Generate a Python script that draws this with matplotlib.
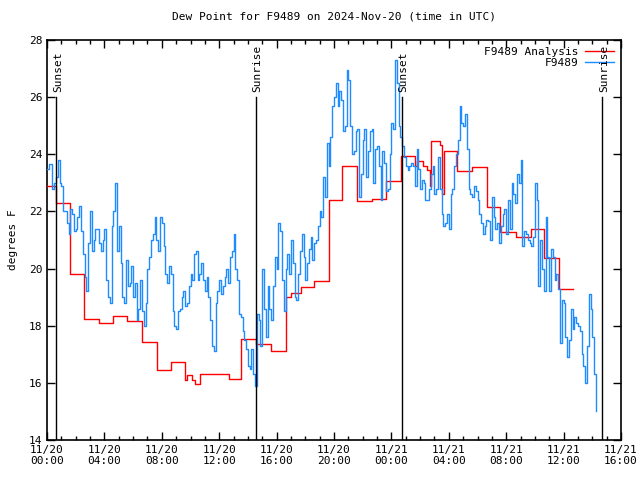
import numpy as np
import matplotlib
matplotlib.use("Agg")
import matplotlib.pyplot as plt
from matplotlib.ticker import MultipleLocator, FuncFormatter

# Analysis (hourly steps): hours since 2024-11-20 00:00 UTC, dew point in F
analysis_hours = [0.0, 0.63, 1.60, 2.58, 3.62, 4.60, 5.57, 6.62, 7.67, 8.64,
                  9.62, 9.76, 10.10, 10.31, 10.66, 12.68, 13.52, 14.56, 15.61,
                  16.66, 17.00, 17.70, 18.61, 19.65, 20.56, 21.60, 22.65,
                  23.62, 24.67, 25.64, 25.78, 26.20, 26.48, 26.69, 26.76,
                  27.39, 27.53, 27.67, 28.57, 29.62, 30.66, 31.57, 32.68,
                  33.73, 34.63, 35.68, 36.66]
analysis_dewpt = [22.89, 22.3, 19.8, 18.23, 18.1, 18.35, 18.17, 17.43, 16.45,
                  16.73, 16.1, 16.28, 16.1, 15.96, 16.3, 16.13, 17.53, 17.36,
                  17.1, 19.0, 19.15, 19.35, 19.57, 22.4, 23.6, 22.37, 22.43,
                  23.06, 23.94, 23.6, 23.77, 23.6, 23.45, 22.9, 24.47, 24.33,
                  22.6, 24.1, 23.4, 23.55, 22.15, 21.28, 21.1, 21.4, 20.37,
                  19.3, 19.3]

# Station observations, one every 7.5 minutes from 00:00 UTC
obs_step_min = 7.5
station_dewpt = [
    23.5, 23.66, 23.66, 22.8, 23.0, 23.2, 23.8, 23.0, 22.9, 22.0,
    22.0, 21.6, 21.2, 22.1, 21.9, 21.3, 21.4, 21.8, 22.2, 21.3,
    20.5, 19.7, 19.2, 20.9, 22.0, 20.6, 21.0, 21.4, 21.4, 20.9,
    20.6, 21.0, 21.4, 19.6, 19.0, 18.8, 21.5, 22.0, 23.0, 20.6,
    21.5, 20.2, 19.0, 18.8, 20.3, 19.4, 19.5, 20.1, 19.0, 19.5,
    18.2, 18.6, 19.6, 18.5, 18.0, 18.8, 20.0, 20.4, 21.0, 21.2,
    21.8, 21.0, 20.6, 21.8, 21.6, 20.8, 19.8, 19.5, 20.1, 19.8,
    18.5, 18.0, 17.9, 18.5, 18.6, 19.0, 19.2, 18.7, 18.8, 19.4,
    19.8, 19.6, 20.5, 20.6, 19.6, 19.8, 20.2, 19.6, 19.2, 19.7,
    19.0, 18.2, 17.3, 17.1, 18.8, 19.2, 19.6, 19.1, 19.4, 19.7,
    20.0, 19.5, 20.4, 20.6, 21.2, 20.0, 19.6, 18.4, 18.3, 17.8,
    17.5, 17.2, 16.6, 16.5, 17.2, 16.3, 15.9, 18.4, 18.2, 17.3,
    20.0, 18.6, 17.6, 19.4, 18.6, 18.2, 19.4, 20.4, 20.0, 21.6,
    21.3, 19.6, 18.5, 20.0, 20.5, 19.8, 21.0, 20.2, 19.0, 18.9,
    19.8, 20.6, 21.2, 20.4, 19.6, 20.2, 20.7, 21.1, 20.3, 20.9,
    21.0, 21.5, 22.0, 21.8, 23.2, 22.5, 24.4, 23.6, 24.6, 25.7,
    26.0, 26.5, 25.7, 26.2, 25.9, 24.8, 25.0, 26.95, 26.6, 25.0,
    24.0, 24.1, 24.8, 24.9, 22.5, 23.3, 24.5, 24.9, 23.2, 24.1,
    24.8, 24.9, 23.0, 24.2, 24.3, 23.6, 22.4, 24.1, 23.7, 22.7,
    22.8, 24.0, 25.1, 24.9, 27.3, 26.5, 25.0, 24.6, 24.3, 23.9,
    23.6, 23.45, 23.6, 23.7, 23.6, 22.9, 24.2, 23.5, 22.8, 23.1,
    23.0, 22.4, 22.4, 22.8, 23.3, 23.6, 22.6, 22.8, 23.9, 22.8,
    21.9, 21.5, 21.6, 21.9, 21.4, 22.6, 22.8, 23.6, 24.0, 24.5,
    25.7, 25.1, 25.0, 25.4, 24.2, 22.8, 22.6, 22.5, 22.9, 22.7,
    22.4, 21.9, 21.6, 21.2, 21.5, 21.7, 21.65, 21.0, 22.5, 21.8,
    21.4, 21.6, 20.9, 21.5, 21.9, 22.1, 21.2, 22.4, 21.4, 23.0,
    22.6, 22.3, 23.3, 23.0, 23.8, 20.8, 21.3, 21.2, 21.0, 20.9,
    20.8, 21.1, 23.0, 22.4, 19.4, 21.0, 20.0, 19.2, 21.8, 20.4,
    19.2, 20.7, 20.4, 19.6, 19.8, 19.3, 17.4, 18.9, 18.8, 17.6,
    16.9, 17.5, 18.6, 17.9, 18.3, 18.1, 18.0, 17.8, 17.0, 16.6,
    16.0, 17.3, 19.1, 18.6, 17.6, 16.3, 15.0]

# Sun events (hours since 2024-11-20 00:00 UTC)
sun_hours = [0.63, 14.56, 24.74, 38.68]
sun_labels = ["Sunset", "Sunrise", "Sunset", "Sunrise"]

plt.rcParams['font.family'] = ['DejaVu Sans Mono']
plt.rcParams['font.size'] = 8

station_hours = np.arange(len(station_dewpt)) * obs_step_min / 60.0

fig = plt.figure(figsize=(6.4, 4.8), dpi=100)
ax = fig.add_axes([47 / 640, 40 / 480, 574 / 640, 400 / 480])

ax.step(analysis_hours, analysis_dewpt, where='post', color='#ff0000',
        lw=1.0, label='F9489 Analysis', zorder=3)
ax.step(station_hours, station_dewpt, where='post', color='#1e8cff',
        lw=1.0, label='F9489', zorder=4)

# sunrise / sunset markers
for h, lab in zip(sun_hours, sun_labels):
    ax.plot([h, h], [14, 26.0], color='black', lw=1.0, zorder=5)
    ax.text(h + 0.12, 26.18, lab, rotation=90, ha='center', va='bottom',
            fontsize=8, zorder=6)

ax.set_xlim(0, 40)
ax.set_ylim(14, 28)
ax.xaxis.set_major_locator(MultipleLocator(4))
ax.xaxis.set_minor_locator(MultipleLocator(1))
ax.yaxis.set_major_locator(MultipleLocator(2))


def fmt_time(h, _):
    day = 20 + int(h // 24)
    return f"11/{day}\n{int(h % 24):02d}:00"


ax.xaxis.set_major_formatter(FuncFormatter(fmt_time))
ax.yaxis.set_major_formatter(FuncFormatter(lambda y, _: f"{int(y)}"))
ax.tick_params(which='both', direction='in', top=True, right=True,
               labelsize=8, width=1)
ax.tick_params(which='major', length=6)
ax.tick_params(which='minor', length=3)
for sp in ax.spines.values():
    sp.set_linewidth(1.2)

ax.set_ylabel("degrees F", fontsize=8, labelpad=8)
ax.set_title("Dew Point for F9489 on 2024-Nov-20 (time in UTC)",
             fontsize=8, pad=15)

ax.legend(loc='upper right', frameon=False, markerfirst=False,
          handlelength=2.6, borderaxespad=0.2, labelspacing=0.1,
          fontsize=8, handletextpad=0.6)

fig.savefig("out.png", dpi=100)
